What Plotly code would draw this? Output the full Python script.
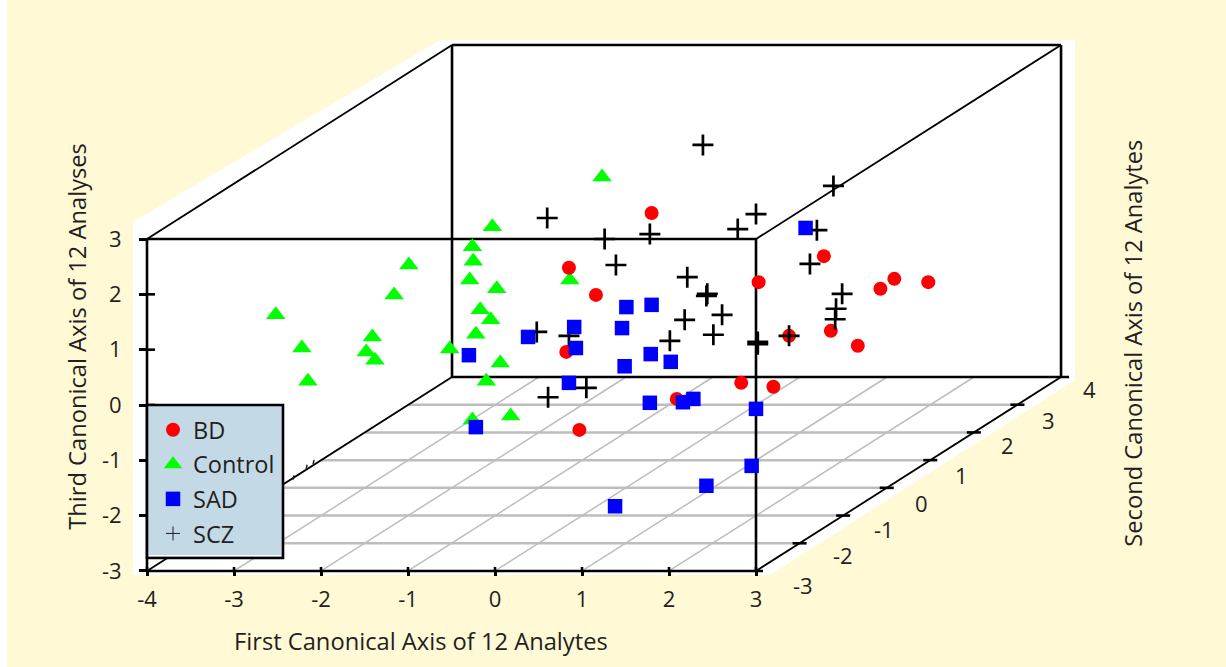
import plotly.graph_objects as go

# ---- data: positions on the chart's first-axis / third-axis scales (as projected) ----
bd_x = [1.80, 0.85, 1.16, 0.82, 3.03, 3.78, 4.59, 4.43, 4.98, 3.86, 4.17, 3.38, 2.83, 3.20, 2.09, 0.97]
bd_y = [3.47, 2.48, 1.99, 0.96, 2.22, 2.69, 2.28, 2.10, 2.22, 1.34, 1.07, 1.25, 0.40, 0.33, 0.11, -0.45]

control_x = [-2.52, -2.22, -2.15, -1.48, -1.41, -1.38, -1.16, -0.99, -0.52, -0.26, -0.25, -0.29,
             0.02, -0.17, -0.05, -0.22, 0.06, -0.10, -0.26, 0.18, -0.03, 1.23, 0.86]
control_y = [1.63, 1.03, 0.43, 0.96, 1.23, 0.81, 1.99, 2.53, 1.01, 2.86, 2.60, 2.26,
             2.10, 1.72, 1.54, 1.28, 0.76, 0.43, -0.27, -0.20, 3.22, 4.12, 2.26]

sad_x = [0.38, -0.30, 0.91, 0.93, 1.46, 1.51, 1.80, 1.49, 1.79, 2.02, 0.85, 1.78, 2.16, 2.28,
         3.00, -0.22, 2.95, 2.43, 1.38, 3.57]
sad_y = [1.23, 0.90, 1.41, 1.03, 1.39, 1.77, 1.81, 0.70, 0.92, 0.78, 0.40, 0.04, 0.05, 0.11,
         -0.07, -0.40, -1.10, -1.46, -1.83, 3.20]

scz_x = [2.39, 0.60, 1.26, 1.78, 1.39, 2.79, 3.00, 2.21, 2.44, 2.43, 2.61, 2.18, 0.48, 0.85,
         2.01, 2.51, 3.02, 3.02, 0.61, 1.05, 3.89, 3.70, 3.62, 3.99, 3.92, 3.91, 3.38]
scz_y = [4.70, 3.38, 3.00, 3.09, 2.53, 3.18, 3.45, 2.31, 2.01, 1.97, 1.63, 1.54, 1.32, 1.25,
         1.16, 1.27, 1.14, 1.10, 0.14, 0.31, 3.96, 3.16, 2.55, 2.01, 1.74, 1.55, 1.25]

first_ticks = [-4, -3, -2, -1, 0, 1, 2, 3]
third_ticks = [-3, -2, -1, 0, 1, 2, 3]
second_ticks = [-3, -2, -1, 0, 1, 2, 3, 4]

W, H = 1226, 667
PX = 87.0      # pixels per first-axis unit
PY = 55.33     # pixels per third-axis unit
X0, X1, Y0, Y1 = -4, 3, -3, 3
D = 3.506      # oblique offset of the back face, in axis units

INK = "#231F20"
CREAM = "#FFF9D6"
GRID = "#BDBDBD"
FONT = "Open Sans"
BOX = 2.6
THIN = 1.8


def depth(s):
    return (s + 3) / 7 * D


def seg(x0, y0, x1, y1, color="black", width=BOX):
    return dict(type="line", x0=x0, y0=y0, x1=x1, y1=y1, layer="below",
                line=dict(color=color, width=width))


shapes = []
# white strip at the left edge and white panel behind the box
shapes.append(dict(type="rect", xref="paper", yref="paper", x0=0, x1=7 / W, y0=0, y1=1,
                   fillcolor="white", line_width=0, layer="below"))
shapes.append(dict(type="path", layer="below", fillcolor="white", line_width=0,
                   path="M -4.161,-3.072 L -4.161,3.307 L -0.632,6.597 L 6.667,6.597 "
                        "L 6.667,0.452 L 3.161,-3.072 Z"))
# floor grid
for s in second_ticks[1:-1]:
    d = depth(s)
    shapes.append(seg(X0 + d, Y0 + d, X1 + d, Y0 + d, GRID, 2.5))
for t in first_ticks[1:-1]:
    shapes.append(seg(t, Y0, t + D, Y0 + D, GRID, 1.5))
# back face
shapes.append(seg(X0 + D, Y0 + D, X0 + D, Y1 + D))
shapes.append(seg(X0 + D, Y1 + D, X1 + D, Y1 + D))
shapes.append(seg(X1 + D, Y0 + D, X1 + D, Y1 + D))
shapes.append(seg(X0 + D, Y0 + D, X1 + D + 8 / PX, Y0 + D))
# receding edges
shapes.append(seg(X0, Y0, X0 + D, Y0 + D, width=THIN))
shapes.append(seg(X0, Y1, X0 + D, Y1 + D, width=THIN))
shapes.append(seg(X1, Y1, X1 + D, Y1 + D, width=THIN))
shapes.append(seg(X1, Y0, X1 + D, Y0 + D, width=THIN))
# front face
shapes.append(seg(X0, Y1, X1, Y1))
shapes.append(seg(X0, Y0, X1 + 7 / PX, Y0))
shapes.append(seg(X0, Y0, X0, Y1))
shapes.append(seg(X1, Y0, X1, Y1))
# inner halves of the crossing ticks
for t in first_ticks:
    shapes.append(seg(t, Y0, t, Y0 + 4 / PY))
for v in third_ticks[1:-1]:
    shapes.append(seg(X0, v, X0 + 8 / PX, v))
# second-axis ticks
for s in second_ticks[1:-1]:
    d = depth(s)
    shapes.append(seg(X1 + d - 7 / PX, Y0 + d, X1 + d + 7 / PX, Y0 + d))
# small specks on the receding edge next to the legend
for sx, sy in [(-2.32, -1.31), (-2.17, -1.12), (-2.09, -1.03)]:
    shapes.append(seg(sx, sy - 0.04, sx + 0.01, sy + 0.04, "#222222", 1.5))
# legend panel
shapes.append(dict(type="rect", x0=X0, x1=X0 + 136 / PX, y0=Y0 + 13 / PY, y1=0,
                   fillcolor="#C3D9E6", line=dict(color="black", width=BOX), layer="below"))
shapes.append(seg(X0 + 2 / PX, Y0 + 15.5 / PY, X0 + 134 / PX, Y0 + 15.5 / PY, "white", 1))

annotations = []
second_offsets = [(47, 14), (43, 12), (41, 13), (35, 15), (31, 15), (34, 13), (31, 15), (28, 12)]
for s, (ox, oy) in zip(second_ticks, second_offsets):
    d = depth(s)
    annotations.append(dict(x=X1 + d, y=Y0 + d, text=str(s), showarrow=False, xshift=ox, yshift=-oy,
                            font=dict(family=FONT, size=22, color=INK)))
title_font = dict(family=FONT, size=23.7, color=INK)
annotations.append(dict(x=-0.85, y=-4.27, text="First Canonical Axis of 12 Analytes",
                        showarrow=False, font=title_font))
annotations.append(dict(x=-4.80, y=1.24, text="Third Canonical Axis of 12 Analyses",
                        showarrow=False, textangle=-90, font=title_font))
annotations.append(dict(x=7.33, y=1.12, text="Second Canonical Axis of 12 Analytes",
                        showarrow=False, textangle=-90, font=title_font))

fig = go.Figure()
fig.add_trace(go.Scatter(x=control_x, y=control_y, mode="markers", name="Control", legendrank=2,
                         legendgroup="c", cliponaxis=False,
                         marker=dict(symbol="triangle-up", size=17, color="#00FF00")))
fig.add_trace(go.Scatter(x=bd_x, y=bd_y, mode="markers", name="BD", legendrank=1,
                         legendgroup="b", cliponaxis=False,
                         marker=dict(symbol="circle", size=14, color="#FF0000")))
fig.add_trace(go.Scatter(x=scz_x, y=scz_y, mode="markers", name="SCZ", showlegend=False,
                         cliponaxis=False,
                         marker=dict(symbol="cross-thin", size=15,
                                     line=dict(color="black", width=2.7))))
fig.add_trace(go.Scatter(x=sad_x, y=sad_y, mode="markers", name="SAD", legendrank=3,
                         legendgroup="s", cliponaxis=False,
                         marker=dict(symbol="square", size=14.5, color="#0000FF")))
fig.add_trace(go.Scatter(x=[None], y=[None], mode="markers", name="SCZ", legendrank=4,
                         legendgroup="z",
                         marker=dict(symbol="cross-thin", size=10,
                                     line=dict(color=INK, width=1))))

fig.update_layout(
    width=W, height=H,
    margin=dict(l=0, r=0, t=0, b=0),
    paper_bgcolor=CREAM, plot_bgcolor="rgba(0,0,0,0)",
    shapes=shapes, annotations=annotations,
    showlegend=True,
    legend=dict(x=153 / W, y=1 - 408 / H, xanchor="left", yanchor="top",
                bgcolor="rgba(0,0,0,0)", borderwidth=0, tracegroupgap=1,
                font=dict(family=FONT, size=23.5, color=INK)),
    xaxis=dict(range=[-495 / PX, 731 / PX], anchor="free", position=96 / H, showgrid=False,
               zeroline=False, showline=False, ticks="outside", ticklen=4, tickwidth=BOX,
               tickcolor="black", tickmode="array", tickvals=first_ticks,
               ticktext=[str(t) for t in first_ticks], ticklabelstandoff=5,
               tickfont=dict(family=FONT, size=22, color=INK)),
    yaxis=dict(range=[-262 / PY, 405 / PY], anchor="free", position=147 / W, showgrid=False,
               zeroline=False, showline=False, ticks="outside", ticklen=8, tickwidth=BOX,
               tickcolor="black", tickmode="array", tickvals=third_ticks,
               ticktext=[str(t) for t in third_ticks], ticklabelstandoff=13,
               tickfont=dict(family=FONT, size=22, color=INK)),
)

fig.write_html("out.html", post_script="document.body.style.margin='0';",
               config={"displayModeBar": False})
